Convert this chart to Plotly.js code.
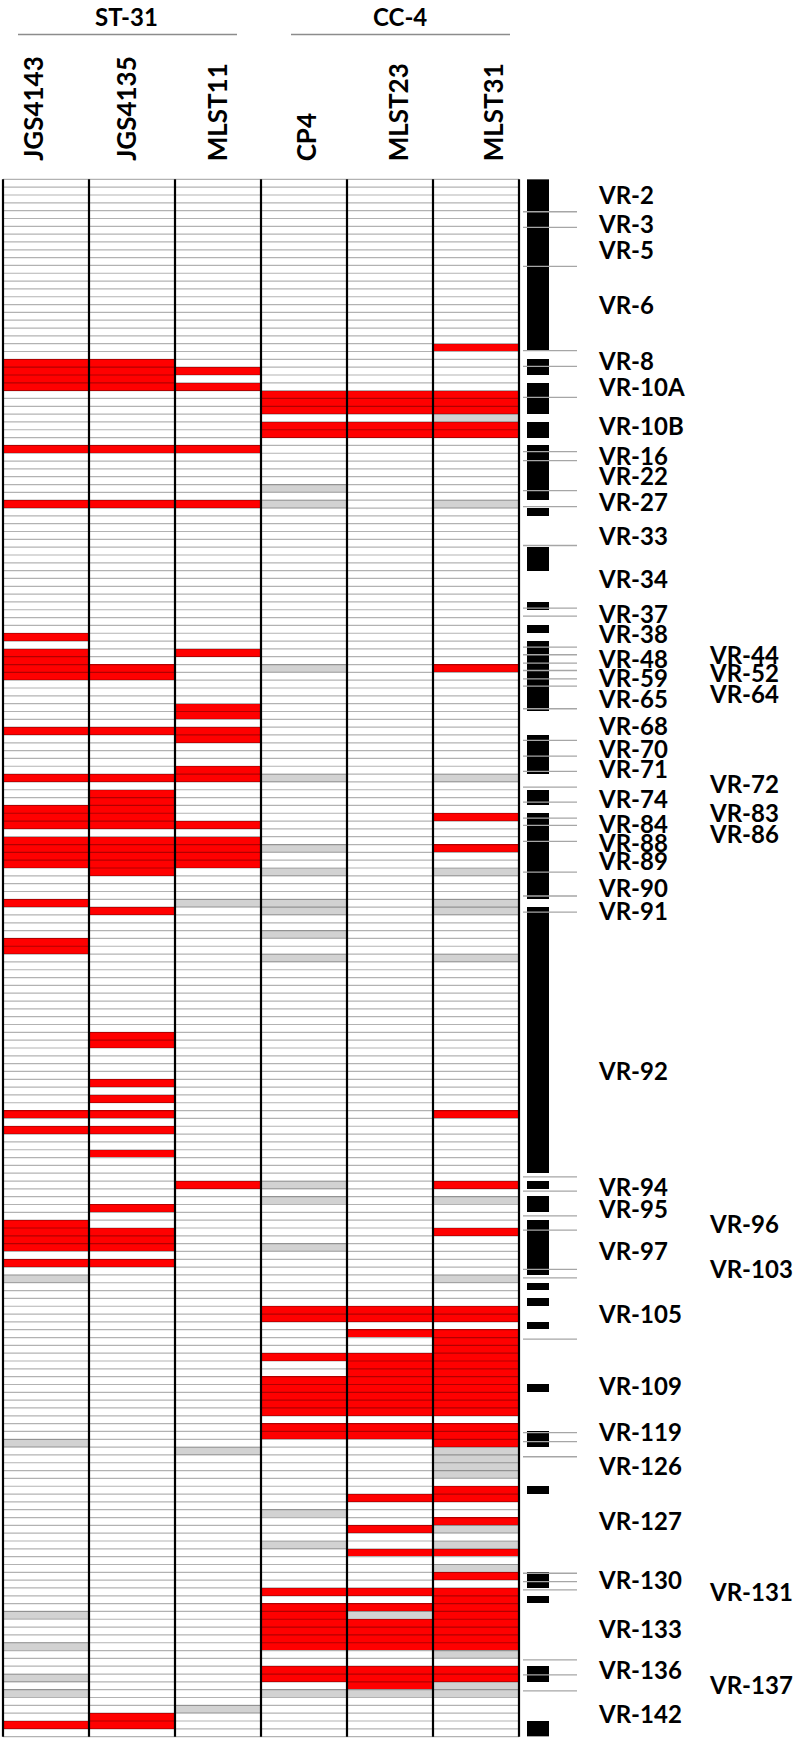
<!DOCTYPE html>
<html><head><meta charset="utf-8">
<script src="https://cdn.plot.ly/plotly-3.0.1.min.js"></script>
<style>html,body{margin:0;padding:0;background:#fff}#chart{width:800px;height:1742px}</style>
</head><body><div id="chart"></div>
<script>
// ---------------- data ----------------
const samples = ['JGS4143','JGS4135','MLST11','CP4','MLST23','MLST31'];
const groups = ['ST-31','CC-4'];
const nRows = 199;

const red_JGS4143 = [23,24,25,26,34,41,58,60,61,62,63,70,76,80,81,82,84,85,86,87,92,97,98,119,121,133,134,135,136,138,197];
const gray_JGS4143 = [140,161,183,187,191,193];
const red_JGS4135 = [23,24,25,26,34,41,62,63,70,76,78,79,80,81,82,84,85,86,87,88,93,109,110,115,117,119,121,124,131,134,135,136,138,196,197];
const gray_JGS4135 = [];
const red_MLST11 = [24,26,34,41,60,67,68,70,71,75,76,82,84,85,86,87,128];
const gray_MLST11 = [92,162,195];
const red_CP4 = [27,28,29,31,32,144,145,150,153,154,155,156,157,159,160,180,182,183,184,185,186,187,190,191];
const gray_CP4 = [39,41,62,76,85,88,92,93,96,99,128,130,136,170,174,193];
const red_MLST23 = [27,28,29,31,32,144,145,147,150,151,152,153,154,155,156,157,159,160,168,172,175,180,182,184,185,186,187,190,191,192];
const gray_MLST23 = [183,193];
const red_MLST31 = [21,27,28,29,31,32,62,81,85,119,128,134,144,145,147,148,149,150,151,152,153,154,155,156,157,159,160,161,167,168,171,175,178,180,181,182,183,184,185,186,187,190,191];
const gray_MLST31 = [30,41,76,88,92,93,99,130,140,162,163,164,165,172,174,177,188,192,193];

// black region bar: [firstRow, lastRow]
const regionBlocks = [[0,21],[23,24],[26,29],[31,32],[34,40],[42,42],[47,49],[54,54],[57,57],[59,67],[71,75],[78,79],[81,91],[93,126],[128,128],[130,131],[133,139],[141,141],[143,143],[146,146],[154,154],[160,161],[167,167],[178,179],[181,181],[190,191],[197,198]];

// VR region labels (row position) and boundary ticks (row position)
const vrNames = ['VR-2','VR-3','VR-5','VR-6','VR-8','VR-10A','VR-10B','VR-16','VR-22','VR-27','VR-33','VR-34','VR-37','VR-38','VR-48','VR-59','VR-65','VR-68','VR-70','VR-71','VR-74','VR-84','VR-88','VR-89','VR-90','VR-91','VR-92','VR-94','VR-95','VR-97','VR-105','VR-109','VR-119','VR-126','VR-127','VR-130','VR-133','VR-136','VR-142'];
const vrRows = [1.38,5.13,8.40,15.43,22.67,25.95,30.97,34.80,37.35,40.64,45.02,50.55,55.02,57.57,60.76,63.11,65.87,69.28,72.26,74.81,78.64,81.84,84.19,86.52,89.93,92.91,113.35,128.25,131.01,136.33,144.42,153.58,159.54,163.79,170.82,178.48,184.65,189.97,195.50];
const vrNames2 = ['VR-44','VR-52','VR-64','VR-72','VR-83','VR-86','VR-96','VR-103','VR-131','VR-137'];
const vrRows2 = [60.20,62.48,65.23,76.73,80.35,83.11,132.92,138.67,180.0,191.89];
const vrBounds = [3.64,5.64,10.62,21.39,23.40,27.35,34.29,35.44,39.27,41.31,46.29,54.30,55.32,59.28,60.25,61.33,62.26,63.32,64.26,67.15,71.20,73.20,75.16,77.16,79.08,81.12,82.06,84.10,88.02,91.08,93.13,126.97,128.80,131.95,133.78,138.80,139.87,147.70,159.66,160.81,162.73,177.62,178.69,179.75,188.69,190.60,192.65];

// ---------------- build ----------------
const redLists = [red_JGS4143, red_JGS4135, red_MLST11, red_CP4, red_MLST23, red_MLST31];
const grayLists = [gray_JGS4143, gray_JGS4135, gray_MLST11, gray_CP4, gray_MLST23, gray_MLST31];
const rows = Array.from({length:nRows}, (_,i)=>i);
const z = rows.map(r => samples.map((s,c) => redLists[c].includes(r) ? 2 : (grayLists[c].includes(r) ? 1 : 0)));
const zBar = rows.map(r => [regionBlocks.some(b => r>=b[0] && r<=b[1]) ? 1 : 0]);

const W = 800, H = 1742;
const rowPx = 7.829, topPx = 179, pad = 0.3;
const tMargin = topPx - pad*rowPx;
const plotH = (nRows + 2*pad)*rowPx;
const bMargin = H - tMargin - plotH;
const plotBottom = tMargin + plotH;
const py = p => (plotBottom - p)/plotH;   // pixel y -> paper y
const px = p => p/W;                      // pixel x -> paper x

const colW = 86, left0 = 3;
const xr0 = -0.5 - 3/colW, xr1 = 5.5 + 3/colW;
const xDomEnd = (left0 + 6*colW + 3)/W;

const gx=[], gy=[];
for (let b=-0.5; b<=nRows-0.5+1e-9; b+=1){ gx.push(-0.5,5.5,null); gy.push(b,b,null); }
const vx=[], vy=[];
for (let c=-0.5; c<=5.5+1e-9; c+=1){ vx.push(c,c,null); vy.push(-0.5,nRows-0.5,null); }

const traces = [
  {type:'heatmap', z:z, x:samples.map((_,i)=>i), y:rows, zmin:0, zmax:2, showscale:false, hoverinfo:'skip',
   colorscale:[[0,'#ffffff'],[0.33,'#ffffff'],[0.34,'#d2d2d2'],[0.66,'#d2d2d2'],[0.67,'#ff0000'],[1,'#ff0000']]},
  {type:'scatter', mode:'lines', x:gx, y:gy, line:{color:'rgba(0,0,0,0.30)', width:1.2}, hoverinfo:'skip', showlegend:false},
  {type:'scatter', mode:'lines', x:vx, y:vy, line:{color:'#000000', width:2.2}, hoverinfo:'skip', showlegend:false},
  {type:'heatmap', z:zBar, x:[0], y:rows, xaxis:'x2', yaxis:'y', zmin:0, zmax:1, showscale:false, hoverinfo:'skip',
   colorscale:[[0,'#ffffff'],[0.5,'#ffffff'],[0.5,'#000000'],[1,'#000000']]}
];

const fontFam = 'Lato, "Open Sans", sans-serif';
const annotations = [];
// group headers
const groupX = [126, 400];
groups.forEach((g,i)=>annotations.push({text:'<b>'+g+'</b>', xref:'paper', yref:'paper', x:px(groupX[i]), y:py(16), xanchor:'center', yanchor:'middle', showarrow:false, font:{family:fontFam, size:24, color:'#000'}}));
// sample labels
const sampleX = [33, 126, 217, 306, 398, 493];
samples.forEach((s,i)=>annotations.push({text:'<b>'+s+'</b>', xref:'paper', yref:'paper', x:px(sampleX[i]), y:py(163), xanchor:'center', yanchor:'bottom', textangle:-90, showarrow:false, font:{family:fontFam, size:26, color:'#000'}}));
// VR labels
vrNames.forEach((n,i)=>annotations.push({text:'<b>'+n+'</b>', xref:'paper', yref:'y', x:px(596), y:vrRows[i], xanchor:'left', yanchor:'middle', showarrow:false, font:{family:fontFam, size:24, color:'#000'}}));
vrNames2.forEach((n,i)=>annotations.push({text:'<b>'+n+'</b>', xref:'paper', yref:'y', x:px(707), y:vrRows2[i], xanchor:'left', yanchor:'middle', showarrow:false, font:{family:fontFam, size:24, color:'#000'}}));

const shapes = [];
shapes.push({type:'line', xref:'paper', yref:'paper', x0:px(18), x1:px(237), y0:py(34), y1:py(34), line:{color:'#8c8c8c', width:1.5}});
shapes.push({type:'line', xref:'paper', yref:'paper', x0:px(291), x1:px(510), y0:py(34), y1:py(34), line:{color:'#8c8c8c', width:1.5}});
vrBounds.forEach(b=>shapes.push({type:'line', xref:'paper', yref:'y', x0:px(523), x1:px(577), y0:b, y1:b, line:{color:'#a6a6a6', width:1.3}}));

const layout = {
  width:W, height:H, paper_bgcolor:'#ffffff', plot_bgcolor:'rgba(0,0,0,0)',
  margin:{l:0, r:0, t:tMargin, b:bMargin, pad:0},
  showlegend:false,
  xaxis:{domain:[0, xDomEnd], range:[xr0, xr1], visible:false, fixedrange:true},
  xaxis2:{domain:[px(527), px(549)], range:[-0.5,0.5], anchor:'y', visible:false},
  yaxis:{domain:[0,1], range:[nRows-0.5+pad, -0.5-pad], visible:false},
  annotations:annotations, shapes:shapes
};
Plotly.newPlot('chart', traces, layout, {displayModeBar:false, staticPlot:true});
</script>
</body></html>
